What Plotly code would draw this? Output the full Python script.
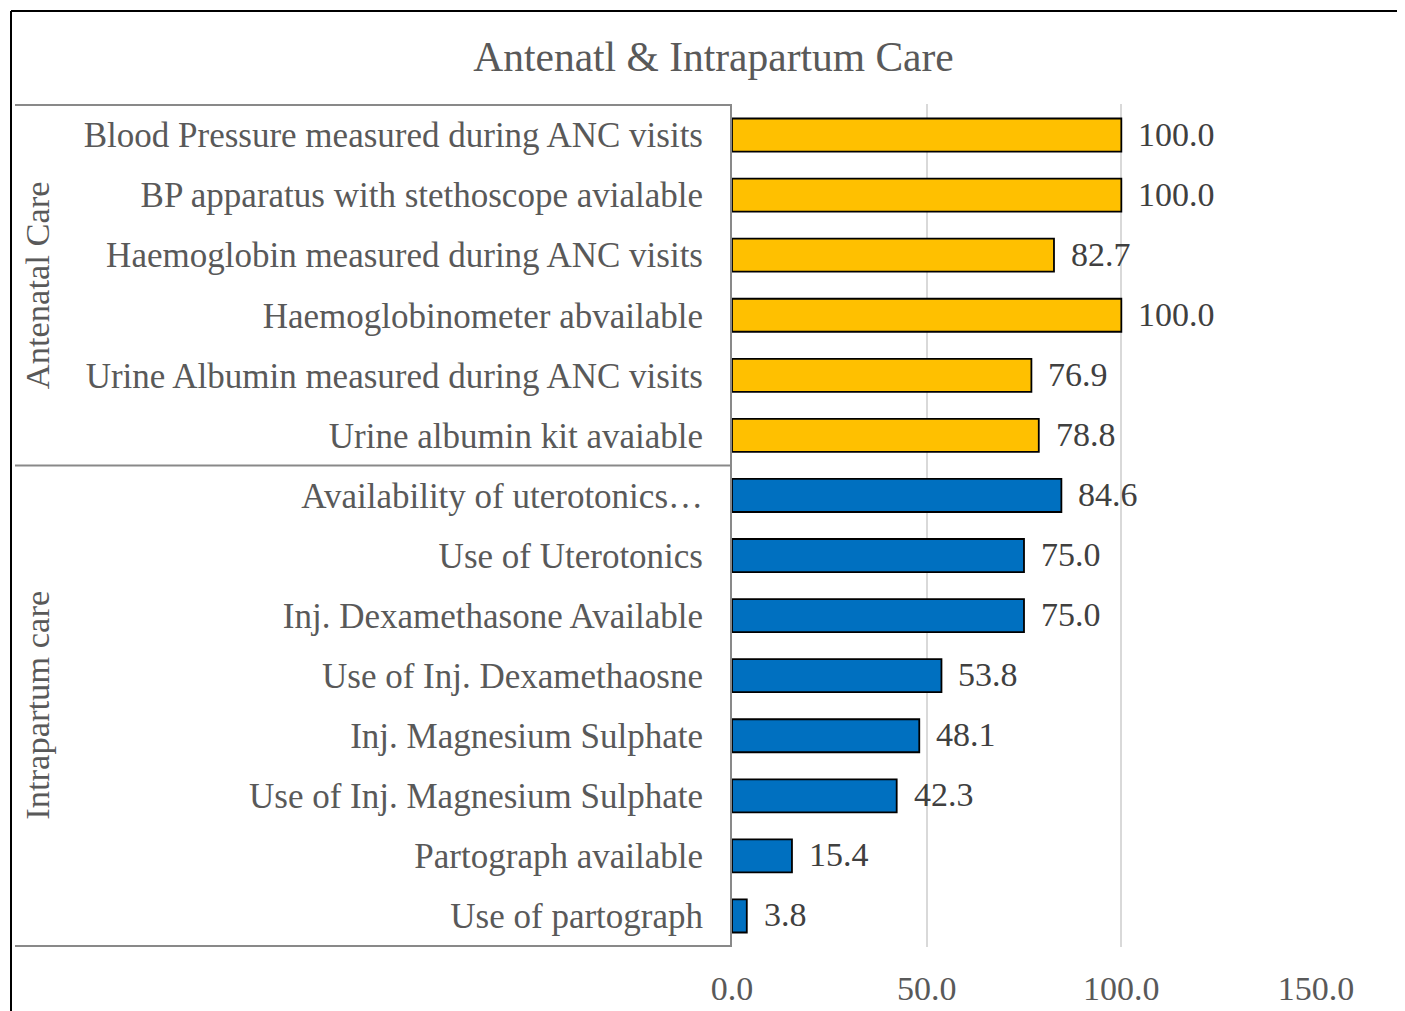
import plotly.graph_objects as go

# data (top to bottom)
categories = [
    "Blood Pressure measured during ANC visits",
    "BP apparatus with stethoscope avialable",
    "Haemoglobin measured during ANC visits",
    "Haemoglobinometer abvailable",
    "Urine Albumin measured during ANC visits",
    "Urine albumin kit avaiable",
    "Availability of uterotonics…",
    "Use of Uterotonics",
    "Inj. Dexamethasone Available",
    "Use of Inj. Dexamethaosne",
    "Inj. Magnesium Sulphate",
    "Use of Inj. Magnesium Sulphate",
    "Partograph available",
    "Use of partograph",
]
values = [100.0, 100.0, 82.7, 100.0, 76.9, 78.8, 84.6, 75.0, 75.0, 53.8, 48.1, 42.3, 15.4, 3.8]
groups = ["Antenatal Care"] * 6 + ["Intrapartum care"] * 8
group_names = ["Antenatal Care", "Intrapartum care"]
group_colors = {"Antenatal Care": "#FFC000", "Intrapartum care": "#0070C0"}
x_ticks = [0, 50, 100, 150]

# page is drawn with an 8px body margin, so work in page pixels minus 8
OFF = 8
W, H = 1405 - OFF, 1011 - OFF
plot_l, plot_r = 732 - OFF, 1316 - OFF
plot_t, plot_b = 104 - OFF, 947 - OFF
pw, ph = plot_r - plot_l, plot_b - plot_t

FONT = "Liberation Serif"
TXT = "#595959"


def px_x(p):
    return (p - OFF - plot_l) / pw


def px_y(p):
    return (plot_b - (p - OFF)) / ph


fig = go.Figure()
fig.add_trace(go.Bar(
    x=values,
    y=categories,
    orientation="h",
    marker=dict(color=[group_colors[g] for g in groups],
                line=dict(color="#000000", width=1.8)),
    showlegend=False,
    hoverinfo="x+y",
))

# value labels
annotations = []
for c, v in zip(categories, values):
    annotations.append(dict(
        x=v, y=c, xref="x", yref="y", text=f"{v:.1f}",
        showarrow=False, xanchor="left", yanchor="middle", xshift=15, yshift=1,
        font=dict(family=FONT, size=34, color="#404040"),
    ))

# group labels on the left
for g in group_names:
    idx = [i for i, gg in enumerate(groups) if gg == g]
    annotations.append(dict(
        x=px_x(37), y=(idx[0] + idx[-1]) / 2, xref="paper", yref="y",
        text=g, textangle=-90, showarrow=False,
        xanchor="center", yanchor="middle",
        font=dict(family=FONT, size=34.5, color=TXT),
    ))

# box lines around the category labels
shapes = []
n_first = groups.count(group_names[0])
for yb in [-0.5, n_first - 0.5, len(categories) - 0.5]:
    shapes.append(dict(type="line", xref="paper", yref="y",
                       x0=px_x(15), x1=0, y0=yb, y1=yb,
                       line=dict(color="#898989", width=2)))

# outer chart border (top and left visible)
shapes.append(dict(type="line", xref="paper", yref="paper",
                   x0=px_x(11), x1=px_x(1420), y0=px_y(11), y1=px_y(11),
                   line=dict(color="#000000", width=2)))
shapes.append(dict(type="line", xref="paper", yref="paper",
                   x0=px_x(11), x1=px_x(11), y0=px_y(11), y1=px_y(1030),
                   line=dict(color="#000000", width=2)))

fig.update_layout(
    width=W, height=H,
    margin=dict(l=plot_l, r=W - plot_r, t=plot_t, b=H - plot_b),
    paper_bgcolor="white", plot_bgcolor="white",
    bargap=0.45,
    font=dict(family=FONT, size=34, color=TXT),
    title=dict(text="Antenatl & Intrapartum Care", x=(713.5 - OFF) / W, xref="container",
               y=1 - (56 - OFF) / H, yref="container", xanchor="center", yanchor="middle",
               font=dict(family=FONT, size=41.5, color=TXT)),
    xaxis=dict(range=[0, 150], tickvals=x_ticks, tickformat=".1f",
               showgrid=True, gridcolor="#d9d9d9", gridwidth=2,
               zeroline=False, showline=False, ticks="",
               ticklabelstandoff=18, automargin=False,
               tickfont=dict(family=FONT, size=34, color=TXT)),
    yaxis=dict(categoryorder="array", categoryarray=categories,
               autorange="reversed", showgrid=False, zeroline=False,
               showline=True, linecolor="#898989", linewidth=2,
               ticks="", ticklabelstandoff=20, automargin=False,
               tickfont=dict(family=FONT, size=35, color=TXT)),
    annotations=annotations,
    shapes=shapes,
)

fig.write_html("out.html")
